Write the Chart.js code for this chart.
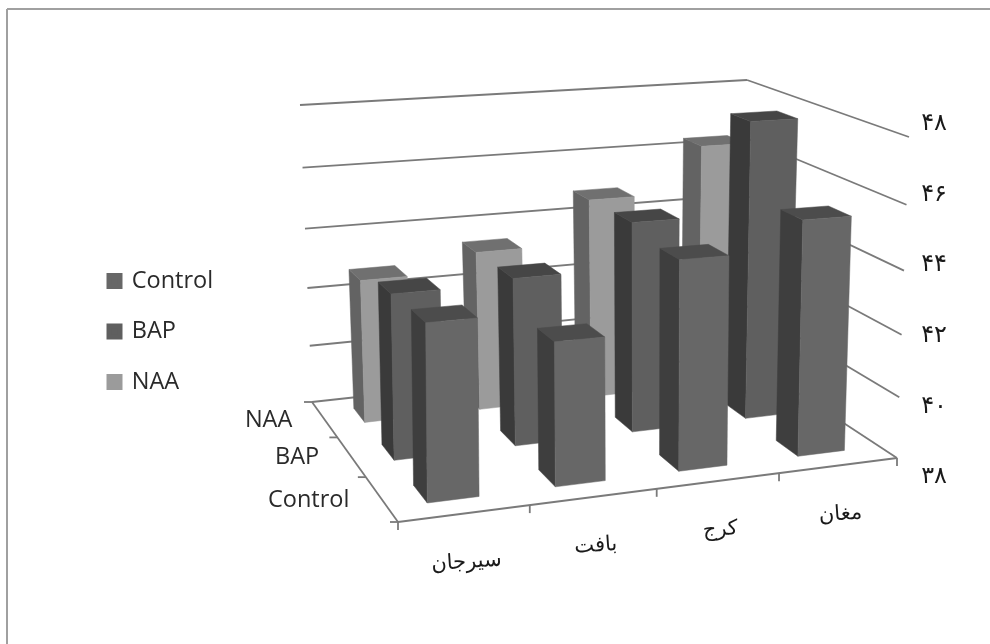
<!DOCTYPE html>
<html>
<head>
<meta charset="utf-8">
<style>
  html, body { margin: 0; padding: 0; background: #fff; }
  #wrap { width: 990px; height: 644px; }
</style>
<script src="https://cdn.jsdelivr.net/npm/chart.js@4/dist/chart.umd.min.js"></script>
</head>
<body>
<div id="wrap"><canvas id="chart" width="990" height="644"></canvas></div>
<script>
const categories = ['سیرجان', 'بافت', 'کرج', 'مغان'];
const treatments = ['Control', 'BAP', 'NAA'];
const controlValues = [43.4, 42.48, 44.6, 45.5];
const bapValues = [43.3, 43.45, 44.9, 47.8];
const naaValues = [42.8, 43.4, 44.84, 46.36];
const yTickLabels = ['۳۸', '۴۰', '۴۲', '۴۴', '۴۶', '۴۸'];

// floor and ceiling of the 3D box: front-left, front-right, back-right, back-left
const floorQuad = [[398, 522], [897, 458], [740, 355], [312, 402]];
const topQuad = [[396, 168], [909, 137], [747, 80], [300, 105]];
const barHalfWidth = 0.05;
const barHalfDepth = 0.0667;
const legendShift = 31;
const heightPerspective = 1.07;

// unit square -> quad perspective map
function quadMap(q) {
  const [[x0, y0], [x1, y1], [x2, y2], [x3, y3]] = q;
  const sx = x0 - x1 + x2 - x3, sy = y0 - y1 + y2 - y3;
  const dx1 = x1 - x2, dx2 = x3 - x2, dy1 = y1 - y2, dy2 = y3 - y2;
  const det = dx1 * dy2 - dx2 * dy1;
  const g = (sx * dy2 - dx2 * sy) / det;
  const h = (dx1 * sy - sx * dy1) / det;
  const a = x1 - x0 + g * x1, b = x3 - x0 + h * x3;
  const d = y1 - y0 + g * y1, e = y3 - y0 + h * y3;
  return (u, v) => {
    const w = g * u + h * v + 1;
    return [(a * u + b * v + x0) / w, (d * u + e * v + y0) / w];
  };
}
const floorMap = quadMap(floorQuad);
const topMap = quadMap(topQuad);

// u along the categories, v into the depth, t up the value axis (all 0..1)
function project(u, v, t) {
  const p0 = floorMap(u, v), p1 = topMap(u, v);
  const s = t / (t + heightPerspective * (1 - t));
  return [p0[0] + (p1[0] - p0[0]) * s, p0[1] + (p1[1] - p0[1]) * s];
}

function fillFace(ctx, pts, color) {
  ctx.beginPath();
  pts.forEach((p, i) => i ? ctx.lineTo(p[0], p[1]) : ctx.moveTo(p[0], p[1]));
  ctx.closePath();
  ctx.fillStyle = color;
  ctx.fill();
  ctx.strokeStyle = color;
  ctx.lineWidth = 0.5;
  ctx.stroke();
}

function decimal(scale, value) {
  return scale.getDecimalForPixel(scale.getPixelForValue(value));
}

class Bar3dController extends Chart.BarController {
  static id = 'bar3d';
  static defaults = Chart.BarController.defaults;
  static overrides = Chart.BarController.overrides;

  draw() {
    const chart = this.chart, ctx = chart.ctx;
    const { x: xScale, y: yScale, z: zScale } = chart.scales;
    const ds = this.getDataset();
    const v = decimal(zScale, this.index);
    const v0 = v - barHalfDepth, v1 = v + barHalfDepth;
    // right to left, the viewer stands on the left
    for (let i = ds.data.length - 1; i >= 0; i--) {
      const u = decimal(xScale, i);
      const u0 = u - barHalfWidth, u1 = u + barHalfWidth;
      const t = decimal(yScale, ds.data[i]);
      fillFace(ctx, [project(u0, v1, 0), project(u0, v0, 0), project(u0, v0, t), project(u0, v1, t)], ds.sideColor);
      fillFace(ctx, [project(u0, v0, t), project(u1, v0, t), project(u1, v1, t), project(u0, v1, t)], ds.topColor);
      fillFace(ctx, [project(u0, v0, 0), project(u1, v0, 0), project(u1, v0, t), project(u0, v0, t)], ds.backgroundColor);
    }
  }
}
Chart.register(Bar3dController);

function line(ctx, a, b) {
  ctx.beginPath();
  ctx.moveTo(a[0], a[1]);
  ctx.lineTo(b[0], b[1]);
  ctx.stroke();
}

// page rules, box walls and the two floor axes
const boxPlugin = {
  id: 'box',
  afterLayout(chart) {
    chart.legend.top += legendShift;
    chart.legend.bottom += legendShift;
  },
  beforeDatasetsDraw(chart) {
    const ctx = chart.ctx;
    const { x: xScale, y: yScale, z: zScale } = chart.scales;
    ctx.save();
    ctx.strokeStyle = '#a0a0a0';
    ctx.lineWidth = 2;
    line(ctx, [7, 644], [7, 9]);
    line(ctx, [7, 9], [990, 9]);

    ctx.strokeStyle = '#7a7a7a';
    ctx.lineWidth = 1.8;
    yScale.ticks.forEach(tick => {
      const t = decimal(yScale, tick.value);
      line(ctx, project(0, 1, t), project(1, 1, t));
      line(ctx, project(1, 1, t), project(1, 0, t));
    });
    line(ctx, project(0, 0, 0), project(1, 0, 0));
    line(ctx, project(0, 0, 0), project(0, 1, 0));

    // category ticks and labels under the front edge
    for (let i = 0; i <= categories.length; i++) {
      const p = project(i / categories.length, 0, 0);
      line(ctx, p, [p[0], p[1] + 8]);
    }
    ctx.fillStyle = '#1a1a1a';
    ctx.font = '21px "DejaVu Sans"';
    ctx.textAlign = 'center';
    ctx.textBaseline = 'middle';
    categories.forEach((label, i) => {
      const p = project(decimal(xScale, i), 0, 0);
      ctx.save();
      ctx.translate(p[0] + 2, p[1] + 49);
      ctx.rotate(-0.07);
      ctx.fillText(label, 0, 0);
      ctx.restore();
    });

    // depth ticks and labels left of the floor
    for (let i = 0; i <= treatments.length; i++) {
      const p = project(0, i / treatments.length, 0);
      line(ctx, p, [p[0] - 8, p[1]]);
    }
    ctx.fillStyle = '#2a2a2a';
    ctx.font = '23.5px "Open Sans"';
    ctx.textAlign = 'right';
    treatments.forEach((label, i) => {
      const p = project(0, decimal(zScale, i), 0);
      ctx.fillText(label, p[0] - 32, p[1] + 1);
    });
    ctx.restore();
  }
};

new Chart(document.getElementById('chart'), {
  type: 'bar3d',
  data: {
    labels: categories,
    datasets: [
      { label: treatments[0], data: controlValues, clip: false, borderWidth: 5, borderColor: '#676767', backgroundColor: '#676767', sideColor: '#3e3e3e', topColor: '#4c4c4c' },
      { label: treatments[1], data: bapValues, clip: false, borderWidth: 5, borderColor: '#5f5f5f', backgroundColor: '#5f5f5f', sideColor: '#3a3a3a', topColor: '#464646' },
      { label: treatments[2], data: naaValues, clip: false, borderWidth: 5, borderColor: '#9b9b9b', backgroundColor: '#9b9b9b', sideColor: '#636363', topColor: '#707070' }
    ]
  },
  plugins: [boxPlugin],
  options: {
    responsive: false,
    animation: false,
    layout: { padding: { left: 82, right: 43, top: 124, bottom: 167 } },
    scales: {
      x: { display: false, offset: true, grid: { display: false } },
      z: { type: 'category', axis: 'x', labels: treatments, display: false, offset: true, grid: { display: false } },
      y: {
        position: 'right',
        min: 38,
        max: 48,
        grid: { display: false },
        border: { display: false },
        ticks: {
          stepSize: 2,
          padding: 0,
          color: '#1a1a1a',
          font: { family: '"DejaVu Sans"', size: 24 },
          callback: (value, i) => yTickLabels[i]
        }
      }
    },
    plugins: {
      tooltip: { enabled: false },
      legend: {
        position: 'left',
        labels: {
          boxWidth: 11,
          boxHeight: 11,
          padding: 27,
          color: '#2a2a2a',
          font: { family: '"Open Sans"', size: 23.5 }
        }
      }
    }
  }
});
</script>
</body>
</html>
